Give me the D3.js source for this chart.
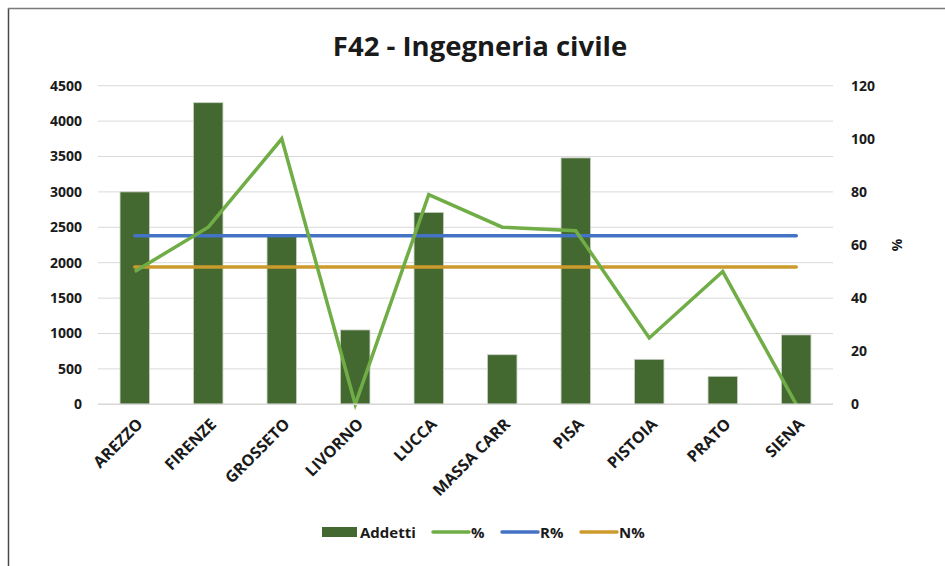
<!DOCTYPE html>
<html>
<head>
<meta charset="utf-8">
<script src="https://cdn.jsdelivr.net/npm/d3@7"></script>
<style>
  body { margin: 0; background: #fff; }
  svg { display: block; font-family: "Open Sans", "Liberation Sans", sans-serif; }
</style>
</head>
<body>
<div id="chart"></div>
<script>
// chart data
var categories = ["AREZZO", "FIRENZE", "GROSSETO", "LIVORNO", "LUCCA", "MASSA CARR", "PISA", "PISTOIA", "PRATO", "SIENA"];
var addetti = [3000, 4260, 2390, 1050, 2710, 700, 3480, 635, 395, 980];
var perc = [50, 66.7, 100, 0, 79, 66.7, 65.4, 25, 50, 0];
var rPerc = 63.5;
var nPerc = 51.7;
var leftTicks = [0, 500, 1000, 1500, 2000, 2500, 3000, 3500, 4000, 4500];
var rightTicks = [0, 20, 40, 60, 80, 100, 120];

var width = 945, height = 566;
var plot = { left: 98, right: 833, top: 85.7, bottom: 404.3 };

var svg = d3.select("#chart").append("svg")
  .attr("width", width)
  .attr("height", height);

// outer frame
svg.append("line").attr("x1", 8.5).attr("x2", 8.5).attr("y1", 8).attr("y2", height)
  .attr("stroke", "#4a4a4a").attr("stroke-width", 1.5);
svg.append("line").attr("x1", 8).attr("x2", width).attr("y1", 8.5).attr("y2", 8.5)
  .attr("stroke", "#7a7a7a").attr("stroke-width", 1.5);

var x = d3.scaleBand()
  .domain(categories)
  .range([plot.left, plot.right])
  .paddingInner(0.6)
  .paddingOuter(0.3);

var yLeft = d3.scaleLinear().domain([0, 4500]).range([plot.bottom, plot.top]);
var yRight = d3.scaleLinear().domain([0, 120]).range([plot.bottom, plot.top]);

// gridlines
svg.append("g")
  .selectAll("line")
  .data(leftTicks)
  .enter()
  .append("line")
  .attr("x1", plot.left)
  .attr("x2", plot.right)
  .attr("y1", function (d) { return yLeft(d); })
  .attr("y2", function (d) { return yLeft(d); })
  .attr("stroke", "#d9d9d9")
  .attr("stroke-width", 1);

// left axis
var leftAxis = svg.append("g")
  .attr("transform", "translate(" + (plot.left - 16) + ",0)")
  .call(d3.axisLeft(yLeft).tickValues(leftTicks).tickFormat(d3.format("d")).tickSize(0).tickPadding(0));
leftAxis.select(".domain").remove();
leftAxis.selectAll("text")
  .attr("font-size", 14).attr("font-weight", "bold").attr("fill", "#1a1a1a")
  .attr("font-family", "'Open Sans', sans-serif");

// right axis
var rightAxis = svg.append("g")
  .attr("transform", "translate(" + (plot.right + 18) + ",0)")
  .call(d3.axisRight(yRight).tickValues(rightTicks).tickSize(0).tickPadding(0));
rightAxis.select(".domain").remove();
rightAxis.selectAll("text")
  .attr("font-size", 14).attr("font-weight", "bold").attr("fill", "#1a1a1a")
  .attr("font-family", "'Open Sans', sans-serif");

svg.append("text")
  .attr("transform", "translate(892,245) rotate(90)")
  .attr("text-anchor", "middle")
  .attr("font-size", 14)
  .attr("font-weight", "bold")
  .attr("fill", "#1a1a1a")
  .text("%");

// bars
svg.append("g")
  .selectAll("rect")
  .data(addetti)
  .enter()
  .append("rect")
  .attr("x", function (d, i) { return x(categories[i]); })
  .attr("width", x.bandwidth())
  .attr("y", function (d) { return yLeft(d); })
  .attr("height", function (d) { return yLeft(0) - yLeft(d); })
  .attr("fill", "#436830")
  .attr("stroke", "#c8cfc4")
  .attr("stroke-width", 0.8);

function cx(c) { return x(c) + x.bandwidth() / 2; }

// reference lines
svg.append("path")
  .datum(categories)
  .attr("d", d3.line().x(function (d) { return cx(d); }).y(function () { return yRight(rPerc); }))
  .attr("fill", "none")
  .attr("stroke", "#4472c4")
  .attr("stroke-width", 3.5)
  .attr("stroke-linecap", "round");

svg.append("path")
  .datum(categories)
  .attr("d", d3.line().x(function (d) { return cx(d); }).y(function () { return yRight(nPerc); }))
  .attr("fill", "none")
  .attr("stroke", "#cc9a2c")
  .attr("stroke-width", 3.5)
  .attr("stroke-linecap", "round");

// % line
svg.append("path")
  .datum(perc)
  .attr("d", d3.line()
    .x(function (d, i) { return cx(categories[i]); })
    .y(function (d) { return yRight(d); }))
  .attr("fill", "none")
  .attr("stroke", "#70ad47")
  .attr("stroke-width", 3.5)
  .attr("stroke-linejoin", "miter");

// baseline
svg.append("line")
  .attr("x1", plot.left).attr("x2", plot.right)
  .attr("y1", plot.bottom).attr("y2", plot.bottom)
  .attr("stroke", "#d9d9d9").attr("stroke-width", 1.5);

// category labels
svg.append("g")
  .selectAll("text")
  .data(categories)
  .enter()
  .append("text")
  .attr("transform", function (d) {
    return "translate(" + (cx(d) + 9) + "," + (plot.bottom + 21) + ") rotate(-45)";
  })
  .attr("text-anchor", "end")
  .attr("font-size", 16)
  .attr("font-weight", "bold")
  .attr("fill", "#1a1a1a")
  .text(function (d) { return d; });

// title
svg.append("text")
  .attr("x", 480)
  .attr("y", 56)
  .attr("text-anchor", "middle")
  .attr("font-size", 27.5)
  .attr("font-weight", "bold")
  .attr("fill", "#1a1a1a")
  .text("F42 - Ingegneria civile");

// legend
var legend = svg.append("g").attr("transform", "translate(0,532)");
legend.append("rect").attr("x", 322).attr("y", -5).attr("width", 35).attr("height", 10).attr("fill", "#436830");
legend.append("text").attr("x", 360).attr("y", 5.5).text("Addetti");
var legendLines = [
  { x: 433, color: "#70ad47", label: "%" },
  { x: 502, color: "#4472c4", label: "R%" },
  { x: 581, color: "#cc9a2c", label: "N%" }
];
legendLines.forEach(function (l) {
  legend.append("line").attr("x1", l.x).attr("x2", l.x + 36).attr("y1", 0).attr("y2", 0)
    .attr("stroke", l.color).attr("stroke-width", 3.5).attr("stroke-linecap", "round");
  legend.append("text").attr("x", l.x + 38).attr("y", 5.5).text(l.label);
});
legend.selectAll("text")
  .attr("font-size", 15)
  .attr("font-weight", "bold")
  .attr("fill", "#1a1a1a");
</script>
</body>
</html>
